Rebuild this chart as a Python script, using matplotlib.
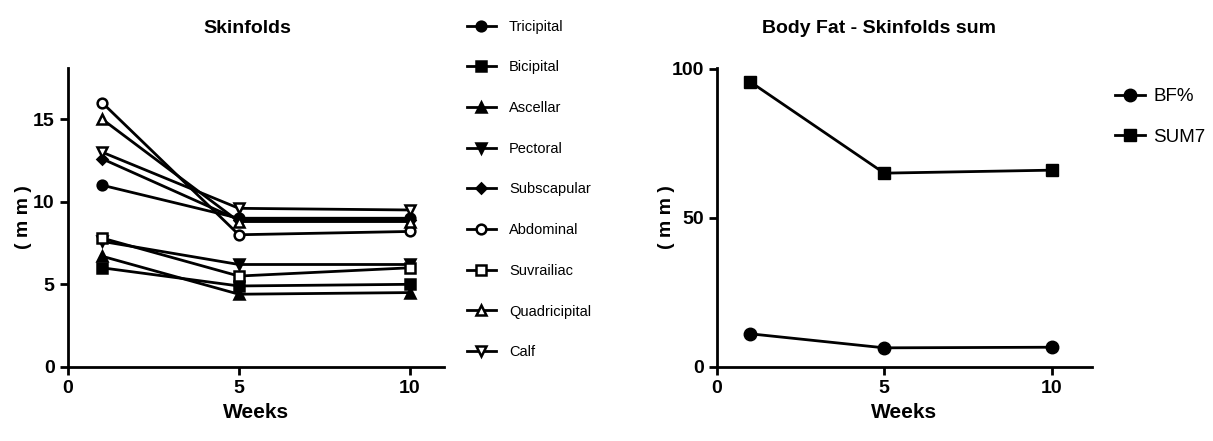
import matplotlib
matplotlib.use('Agg')
import matplotlib.pyplot as plt

plt.rcParams['font.family'] = ['Liberation Sans', 'DejaVu Sans']

weeks = [1, 5, 10]

# skinfolds (mm)
skinfold_names = ['Tricipital', 'Bicipital', 'Ascellar', 'Pectoral', 'Subscapular',
                  'Abdominal', 'Suvrailiac', 'Quadricipital', 'Calf']
skinfold_values = [
    [11.0, 9.0, 9.0],
    [6.0, 4.9, 5.0],
    [6.7, 4.4, 4.5],
    [7.6, 6.2, 6.2],
    [12.6, 8.9, 8.9],
    [16.0, 8.0, 8.2],
    [7.8, 5.5, 6.0],
    [15.0, 8.8, 8.8],
    [13.0, 9.6, 9.5],
]
skinfold_markers = ['o', 's', '^', 'v', 'D', 'o', 's', '^', 'v']
skinfold_filled = [True, True, True, True, True, False, False, False, False]

# body fat
bf_pct = [11.1, 6.4, 6.6]
sum7 = [95.6, 65.0, 66.0]

fig = plt.figure(figsize=(12.13, 4.41), dpi=100)
ax1 = fig.add_axes([0.056, 0.168, 0.31, 0.678])
ax2 = fig.add_axes([0.591, 0.168, 0.309, 0.678])


def prism_style(ax, ylab_x):
    for s in ['top', 'right']:
        ax.spines[s].set_visible(False)
    for s in ['left', 'bottom']:
        ax.spines[s].set_linewidth(2)
    ax.tick_params(width=2, length=6, labelsize=14, direction='out')
    for lab in ax.get_xticklabels() + ax.get_yticklabels():
        lab.set_fontweight('bold')
    ax.set_xlabel('Weeks', fontsize=15, fontweight='bold')
    ax.set_ylabel('( m m )', fontsize=14, fontweight='bold', va='center')
    ax.yaxis.set_label_coords(ylab_x, 0.5)


for name, vals, m, filled in zip(skinfold_names, skinfold_values, skinfold_markers, skinfold_filled):
    ms = 5.5 if m == 'D' else 7
    ax1.plot(weeks, vals, color='black', lw=2, marker=m, markersize=ms,
             markerfacecolor='black' if filled else 'white',
             markeredgecolor='black', markeredgewidth=1.8, label=name)

ax1.set_xlim(0, 11)
ax1.set_ylim(0, 18.1)
ax1.set_xticks([0, 5, 10])
ax1.set_yticks([0, 5, 10, 15])
prism_style(ax1, -0.117)
fig.text(0.204, 0.935, 'Skinfolds', ha='center', va='center', fontsize=14, fontweight='bold')
ax1.legend(loc='upper left', bbox_to_anchor=(0.374, 0.985), bbox_transform=fig.transFigure,
           frameon=False, fontsize=10.5, labelspacing=1.83, handlelength=2.0, handletextpad=0.9)

ax2.plot(weeks, bf_pct, color='black', lw=2, marker='o', markersize=9, label='BF%')
ax2.plot(weeks, sum7, color='black', lw=2, marker='s', markersize=9, label='SUM7')
ax2.set_xlim(0, 11.2)
ax2.set_ylim(0, 100.3)
ax2.set_xticks([0, 5, 10])
ax2.set_yticks([0, 50, 100])
prism_style(ax2, -0.135)
fig.text(0.725, 0.935, 'Body Fat - Skinfolds sum', ha='center', va='center', fontsize=14, fontweight='bold')
ax2.legend(loc='upper left', bbox_to_anchor=(0.905, 0.838), bbox_transform=fig.transFigure,
           frameon=False, fontsize=13.5, labelspacing=1.25, handlelength=1.6, handletextpad=0.45)

fig.savefig('out.png', dpi=100)
